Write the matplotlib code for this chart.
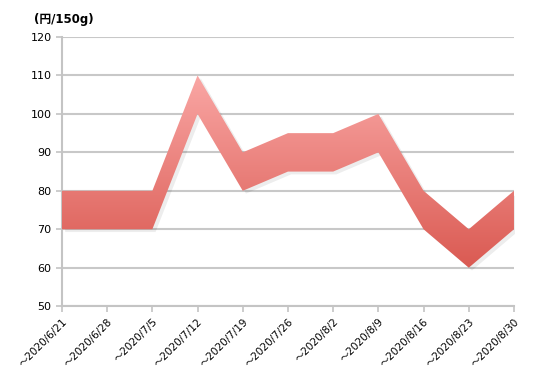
import numpy as np
from matplotlib import pyplot as plt
from matplotlib.colors import LinearSegmentedColormap

# weekly price range (yen per 150g)
weeks = ['2020/6/21', '2020/6/28', '2020/7/5', '2020/7/12', '2020/7/19', '2020/7/26',
         '2020/8/2', '2020/8/9', '2020/8/16', '2020/8/23', '2020/8/30']
low = [70, 70, 70, 100, 80, 85, 85, 90, 70, 60, 70]
high = [80, 80, 80, 110, 90, 95, 95, 100, 80, 70, 80]
labels = ['～' + w for w in weeks]

plt.rcParams['font.family'] = ['DejaVu Sans', 'Noto Sans CJK JP']

fig = plt.figure(figsize=(5.34, 3.72), dpi=100)
ax = fig.add_axes([0.116, 0.177, 0.8465, 0.7235])

x = np.arange(len(weeks))

# soft shadow under the band
ax.fill_between(x + 0.06, np.array(low) - 0.6, np.array(high) - 0.6,
                color='#000000', alpha=0.07, lw=0, zorder=2)

band = ax.fill_between(x, low, high, color='none', lw=0, zorder=3)

# vertical gradient, light on top, dark at bottom
cmap = LinearSegmentedColormap.from_list('red', ['#d9574f', '#fbaaa8'])
grad = np.linspace(0, 1, 256).reshape(-1, 1)
img = ax.imshow(grad, cmap=cmap, aspect='auto', origin='lower',
                extent=[x[0], x[-1], 58, 112], zorder=3)
img.set_clip_path(band.get_paths()[0], transform=ax.transData)

ax.set_xlim(0, len(weeks) - 1)
ax.set_ylim(50, 120)
ax.set_yticks(range(50, 121, 10))
ax.set_xticks(x)
ax.set_xticklabels(labels, rotation=45, ha='right', rotation_mode='anchor', fontsize=7.5)
ax.tick_params(axis='y', labelsize=8, length=4, color='#c4c4c4', width=1.2)
ax.tick_params(axis='x', length=4, color='#c4c4c4', width=1.2)

ax.grid(axis='y', color='#c8c8c8', lw=1.5, zorder=1)
ax.set_axisbelow(True)
for s in ['top', 'right']:
    ax.spines[s].set_visible(False)
for s in ['left', 'bottom']:
    ax.spines[s].set_color('#c4c4c4')
    ax.spines[s].set_linewidth(1.5)

fig.text(0.064, 0.948, '(円/150g)', fontsize=8.5, fontweight='bold', va='center')

plt.savefig('out.png', dpi=100)
